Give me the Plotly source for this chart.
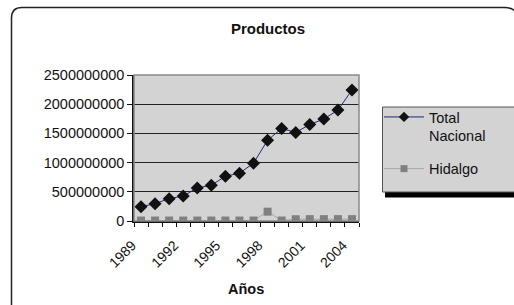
import plotly.graph_objects as go

years = [str(y) for y in range(1989, 2005)]
tick_labels = [y if (int(y) - 1989) % 3 == 0 else "" for y in years]
total_nacional = [246e6, 297e6, 383e6, 429e6, 566e6, 612e6, 767e6, 818e6,
                  990e6, 1384e6, 1585e6, 1516e6, 1653e6, 1745e6, 1899e6, 2243e6]
hidalgo = [8e6, 8e6, 8e6, 8e6, 8e6, 8e6, 8e6, 8e6,
           8e6, 160e6, 8e6, 30e6, 32e6, 32e6, 32e6, 32e6]

W, H = 514, 305
L, R, T, B = 134, 359, 75, 221


def px(x):
    return (x - L) / (R - L)


def py(y):
    return (B - y) / (B - T)


FONT = "Arial, Liberation Sans, sans-serif"
TN_LINE, TN_MK = "#1F2A7A", "#111111"
HI_LINE, HI_MK = "#A8A8A8", "#808080"

fig = go.Figure()
fig.add_trace(go.Scatter(
    x=years, y=total_nacional, name="Total Nacional", mode="lines+markers",
    line=dict(color=TN_LINE, width=1),
    marker=dict(symbol="diamond", size=10, color=TN_MK),
    showlegend=False,
))
fig.add_trace(go.Scatter(
    x=years, y=hidalgo, name="Hidalgo", mode="lines+markers",
    line=dict(color=HI_LINE, width=1),
    marker=dict(symbol="square", size=8, color=HI_MK),
    showlegend=False,
))
# legend entries (smaller markers as in the reference legend)
fig.add_trace(go.Scatter(
    x=[None], y=[None], name="Total<br>Nacional", mode="lines+markers",
    line=dict(color=TN_LINE, width=1),
    marker=dict(symbol="diamond", size=8, color=TN_MK), legendgroup="a",
))
fig.add_trace(go.Scatter(
    x=[None], y=[None], name="Hidalgo", mode="lines+markers",
    line=dict(color=HI_LINE, width=1),
    marker=dict(symbol="square", size=7, color=HI_MK), legendgroup="b",
))

shapes = [
    # outer rounded frame
    dict(type="path", xref="paper", yref="paper", layer="below",
         path=f"M {px(11.5)},{py(330)} L {px(11.5)},{py(18)} Q {px(11.5)},{py(7.5)} {px(22)},{py(7.5)} "
              f"L {px(505)},{py(7.5)} Q {px(512)},{py(7.5)} {px(516)},{py(12)}",
         line=dict(color="#222222", width=1.5)),
    # plot area border (top / right)
    dict(type="rect", xref="paper", yref="paper", x0=0, x1=1, y0=0, y1=1,
         line=dict(color="#8A8A8A", width=1.5), layer="above"),
    # legend shadow
    dict(type="rect", xref="paper", yref="paper", x0=px(385), x1=px(520), y0=py(197.5), y1=py(191.5),
         fillcolor="#000000", line=dict(width=0)),
    # legend box
    dict(type="rect", xref="paper", yref="paper", x0=px(382.5), x1=px(520), y0=py(192), y1=py(107),
         fillcolor="#D3D3D3", line=dict(color="#555555", width=1)),
]

fig.update_layout(
    width=W, height=H,
    margin=dict(l=L, r=W - R, t=T, b=H - B, pad=0, autoexpand=False),
    paper_bgcolor="white", plot_bgcolor="#D3D3D3",
    font=dict(family=FONT, size=14.5, color="#111111"),
    title=dict(text="<b>Productos</b>", x=268 / W, xanchor="center",
               y=1 - 28.5 / H, yanchor="middle", yref="container",
               font=dict(size=15, family=FONT, color="#111111")),
    shapes=shapes,
    showlegend=True,
    legend=dict(x=px(379), y=py(101), xanchor="left", yanchor="top",
                bgcolor="rgba(0,0,0,0)", borderwidth=0, valign="top",
                tracegroupgap=11, itemwidth=40,
                font=dict(size=14.5, family=FONT, color="#111111")),
    annotations=[dict(text="<b>Años</b>", x=px(246), y=py(288.5), xref="paper", yref="paper",
                      showarrow=False, xanchor="center", yanchor="middle",
                      font=dict(size=14.5, family=FONT, color="#111111"))],
)

fig.update_xaxes(
    type="category", tickmode="array", tickvals=years, ticktext=tick_labels,
    tickson="boundaries", ticks="outside", ticklen=4, tickcolor="#111111",
    tickangle=-45, showline=True, linecolor="#111111", linewidth=1.5,
    showgrid=False, tickfont=dict(size=14, family=FONT, color="#111111"),
    ticklabelstandoff=9, ticklabelshift=-9,
    range=[-0.5, 15.5], zeroline=False, automargin=False,
)
fig.update_yaxes(
    range=[0, 2.5e9], dtick=5e8, tick0=0, tickformat="d",
    ticks="outside", ticklen=5, tickcolor="#111111",
    showline=True, linecolor="#111111", linewidth=1.5,
    showgrid=True, gridcolor="#222222", gridwidth=1, zeroline=False,
    tickfont=dict(size=14.5, family=FONT, color="#111111"), automargin=False,
)

fig.write_html("out.html", config={"displayModeBar": False},
               post_script="document.body.style.margin='0';")
